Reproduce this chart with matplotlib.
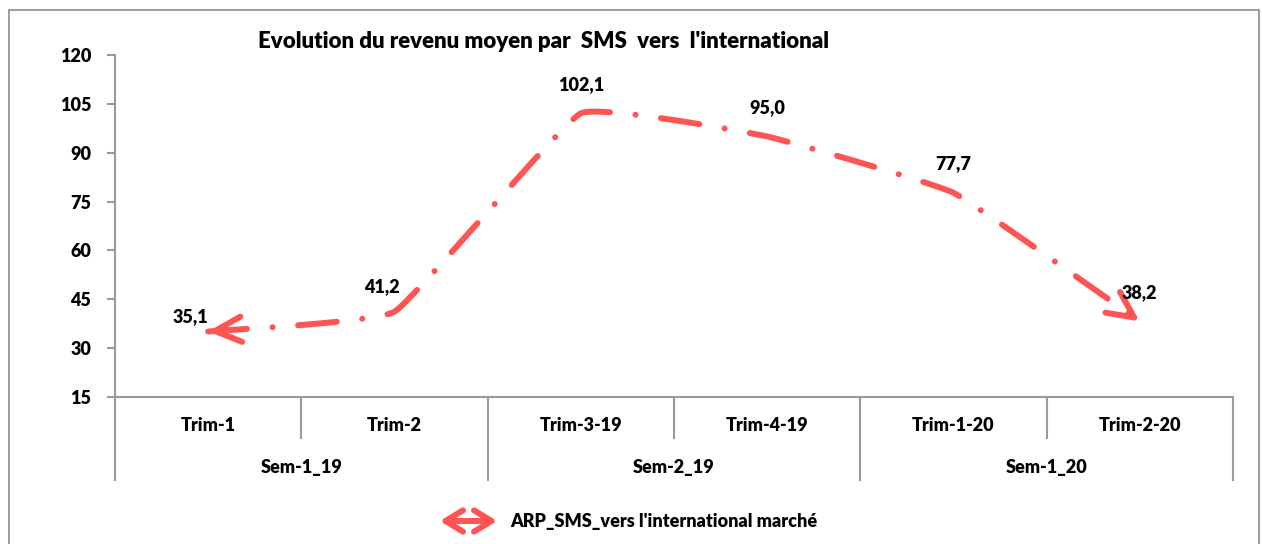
import numpy as np
import matplotlib
matplotlib.use("Agg")
import matplotlib.pyplot as plt
from matplotlib.patches import FancyArrowPatch, Rectangle

plt.rcParams['font.family'] = ['Lato', 'DejaVu Sans']
plt.rcParams['lines.scale_dashes'] = False
W = 'heavy'

# data
trims = ['Trim-1', 'Trim-2', 'Trim-3-19', 'Trim-4-19', 'Trim-1-20', 'Trim-2-20']
sems = ['Sem-1_19', 'Sem-2_19', 'Sem-1_20']
values = [35.1, 41.2, 102.1, 95.0, 77.7, 38.2]
value_labels = ['35,1', '41,2', '102,1', '95,0', '77,7', '38,2']
title = "Evolution du revenu moyen par  SMS  vers  l'international"
legend_label = "ARP_SMS_vers l'international marché"

red = '#FF5454'
grey = '#9A9A9A'

fig = plt.figure(figsize=(12.62, 5.44), dpi=100)
ax = fig.add_axes([115/1262, 1-397/544, (1233-115)/1262, (397-55)/544])

# smoothed line, low tension
k = 0.05
x = np.arange(len(values), dtype=float)
y = np.array(values)
px = np.concatenate([[x[0]], x, [x[-1]]])
py = np.concatenate([[y[0]], y, [y[-1]]])
cx, cy = [], []
t = np.linspace(0, 1, 60)
for i in range(1, len(px) - 2):
    p0 = np.array([px[i], py[i]])
    p3 = np.array([px[i+1], py[i+1]])
    p1 = p0 + (np.array([px[i+1], py[i+1]]) - np.array([px[i-1], py[i-1]])) * k
    p2 = p3 - (np.array([px[i+2], py[i+2]]) - np.array([px[i], py[i]])) * k
    b = ((1-t)**3)[:, None]*p0 + (3*(1-t)**2*t)[:, None]*p1 + (3*(1-t)*t**2)[:, None]*p2 + (t**3)[:, None]*p3
    if cx:
        b = b[1:]
    cx.extend(b[:, 0])
    cy.extend(b[:, 1])
cx = np.array(cx)
cy = np.array(cy)

ax.plot(cx, cy, color=red, lw=4.3, dash_capstyle='round',
        dashes=(28, 18.4, 0.1, 18.4))

# open arrow heads at both ends
for (xa, ya), (xb, yb) in [((cx[8], cy[8]), (cx[0], cy[0])),
                           ((cx[-9], cy[-9]), (cx[-1], cy[-1]))]:
    ax.annotate('', xy=(xb, yb), xytext=(xa, ya),
                arrowprops=dict(arrowstyle='->,head_length=1.35,head_width=0.65',
                                color=red, lw=4.3, shrinkA=0, shrinkB=0,
                                mutation_scale=14, capstyle='round',
                                joinstyle='round'))

# data labels
label_offsets = [(-13, 7), (-9, 14), (0, 17), (0, 17), (0, 17), (0, 17)]
for i, (v, s) in enumerate(zip(values, value_labels)):
    ax.annotate(s, (i, v), xytext=label_offsets[i], textcoords='offset points',
                ha='center', va='baseline', fontsize=13, fontweight=W)

ax.set_xlim(-0.5, len(values) - 0.5)
ax.set_ylim(15, 120)
ax.set_yticks(np.arange(15, 121, 15))
ax.set_xticks([])
for s in ['top', 'right']:
    ax.spines[s].set_visible(False)
for s in ['left', 'bottom']:
    ax.spines[s].set_color(grey)
    ax.spines[s].set_linewidth(1.5)
ax.tick_params(axis='y', length=6, width=1.5, color=grey, pad=11, labelsize=13)
for lbl in ax.get_yticklabels():
    lbl.set_fontweight(W)

# two-level category axis
tr = ax.get_xaxis_transform()
for i in range(len(trims) + 1):
    b = i - 0.5
    low = -0.243 if i % 2 == 0 else -0.12
    ax.plot([b, b], [0, low], transform=tr, color=grey, lw=1.5, clip_on=False)
for i, s in enumerate(trims):
    ax.text(i, -0.082, s, transform=tr, ha='center', va='center',
            fontsize=13, fontweight=W)
for j, s in enumerate(sems):
    ax.text(2*j + 0.5, -0.205, s, transform=tr, ha='center', va='center',
            fontsize=13, fontweight=W)

fig.text(544/1262, 1-42/544, title, ha='center', va='center',
         fontsize=16, fontweight=W)

# legend
leg = FancyArrowPatch((437/1262, 1-521/544), (500/1262, 1-521/544),
                      transform=fig.transFigure,
                      arrowstyle='<->,head_length=0.9,head_width=0.55',
                      mutation_scale=14, color=red, lw=4.3,
                      capstyle='round', joinstyle='round')
fig.patches.append(leg)
fig.text(510/1262, 1-521/544, legend_label, ha='left', va='center',
         fontsize=13, fontweight=W)

fig.patches.append(Rectangle((9/1262, -0.05), 1250/1262, 1.05 - 10/544,
                             transform=fig.transFigure, fill=False,
                             edgecolor='#8C8C8C', lw=1.2))

fig.savefig('out.png', dpi=100)
